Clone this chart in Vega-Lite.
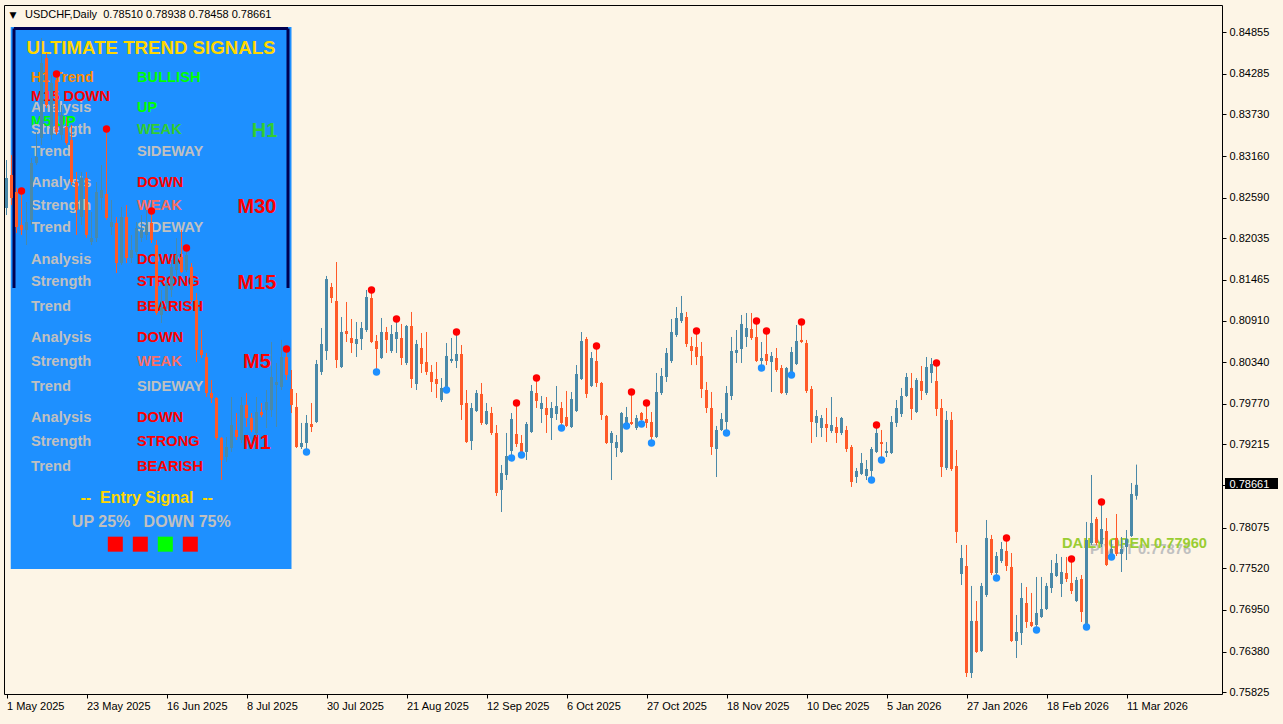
{
"$schema":"https://vega.github.io/schema/vega-lite/v6.json",
"width":1218,"height":689,
"autosize":{"type":"none"},
"padding":{"left":4,"top":5,"right":61,"bottom":30},
"background":"#FDF5E6",
"config":{"view":{"stroke":"#000000","strokeWidth":1},"text":{"font":"Liberation Sans"},"scale":{"continuousPadding":0}},
"datasets":{
"candles":[
{"i":0,"o":0.82450,"h":0.83107,"l":0.82354,"c":0.82861},
{"i":1,"o":0.82902,"h":0.83176,"l":0.82491,"c":0.82587},
{"i":2,"o":0.82669,"h":0.82724,"l":0.82108,"c":0.82190},
{"i":3,"o":0.82218,"h":0.82642,"l":0.82081,"c":0.82149,"s":"hi"},
{"i":4,"o":0.82149,"h":0.82532,"l":0.81944,"c":0.82259},
{"i":5,"o":0.82286,"h":0.83135,"l":0.82218,"c":0.83066},
{"i":6,"o":0.83066,"h":0.83490,"l":0.83039,"c":0.83148},
{"i":7,"o":0.83408,"h":0.84777,"l":0.83313,"c":0.84435},
{"i":8,"o":0.84503,"h":0.84572,"l":0.83819,"c":0.83860},
{"i":9,"o":0.83449,"h":0.84271,"l":0.83381,"c":0.84161},
{"i":10,"o":0.84202,"h":0.84243,"l":0.83449,"c":0.83490,"s":"hi"},
{"i":11,"o":0.83449,"h":0.83860,"l":0.83381,"c":0.83723},
{"i":12,"o":0.83559,"h":0.83696,"l":0.83313,"c":0.83340},
{"i":13,"o":0.83381,"h":0.83586,"l":0.82765,"c":0.82806},
{"i":14,"o":0.82806,"h":0.82943,"l":0.82081,"c":0.82423},
{"i":15,"o":0.82327,"h":0.82943,"l":0.82218,"c":0.82861},
{"i":16,"o":0.82861,"h":0.82943,"l":0.82040,"c":0.82081},
{"i":17,"o":0.81985,"h":0.82395,"l":0.81944,"c":0.82040},
{"i":18,"o":0.82040,"h":0.82806,"l":0.81985,"c":0.82669},
{"i":19,"o":0.82587,"h":0.83039,"l":0.82423,"c":0.82697},
{"i":20,"o":0.82642,"h":0.83490,"l":0.82286,"c":0.82313,"s":"hi"},
{"i":21,"o":0.82190,"h":0.82560,"l":0.82081,"c":0.82259},
{"i":22,"o":0.82245,"h":0.82327,"l":0.81561,"c":0.81697},
{"i":23,"o":0.81697,"h":0.82464,"l":0.81670,"c":0.82327},
{"i":24,"o":0.82327,"h":0.82491,"l":0.81697,"c":0.81766},
{"i":25,"o":0.81766,"h":0.82081,"l":0.81697,"c":0.81875},
{"i":26,"o":0.81848,"h":0.82259,"l":0.81807,"c":0.82177},
{"i":27,"o":0.82040,"h":0.82354,"l":0.81985,"c":0.82149},
{"i":28,"o":0.82081,"h":0.82423,"l":0.82012,"c":0.82218},
{"i":29,"o":0.82245,"h":0.82368,"l":0.81971,"c":0.82012,"s":"hi"},
{"i":30,"o":0.81944,"h":0.82012,"l":0.80986,"c":0.81013},
{"i":31,"o":0.80986,"h":0.81328,"l":0.80876,"c":0.81095},
{"i":32,"o":0.81150,"h":0.81506,"l":0.81054,"c":0.81424},
{"i":33,"o":0.81328,"h":0.81739,"l":0.81232,"c":0.81643},
{"i":34,"o":0.81602,"h":0.82040,"l":0.81506,"c":0.81807},
{"i":35,"o":0.81780,"h":0.82149,"l":0.81561,"c":0.81574},
{"i":36,"o":0.81602,"h":0.81862,"l":0.81574,"c":0.81807,"s":"hi"},
{"i":37,"o":0.81643,"h":0.81697,"l":0.81164,"c":0.81191},
{"i":38,"o":0.81191,"h":0.81287,"l":0.80342,"c":0.80507},
{"i":39,"o":0.80507,"h":0.80780,"l":0.80397,"c":0.80438},
{"i":40,"o":0.80411,"h":0.80466,"l":0.79863,"c":0.79918},
{"i":41,"o":0.79918,"h":0.80096,"l":0.79781,"c":0.79850},
{"i":42,"o":0.79850,"h":0.79863,"l":0.79275,"c":0.79302},
{"i":43,"o":0.79302,"h":0.79316,"l":0.78727,"c":0.79001},
{"i":44,"o":0.79042,"h":0.79316,"l":0.78974,"c":0.79179},
{"i":45,"o":0.79165,"h":0.79863,"l":0.79111,"c":0.79480},
{"i":46,"o":0.79412,"h":0.79644,"l":0.79275,"c":0.79316},
{"i":47,"o":0.79275,"h":0.79863,"l":0.79234,"c":0.79754},
{"i":48,"o":0.79754,"h":0.79918,"l":0.79453,"c":0.79576},
{"i":49,"o":0.79576,"h":0.79644,"l":0.79384,"c":0.79412},
{"i":50,"o":0.79371,"h":0.79863,"l":0.79316,"c":0.79658},
{"i":51,"o":0.79658,"h":0.79781,"l":0.79590,"c":0.79617},
{"i":52,"o":0.79685,"h":0.79959,"l":0.79439,"c":0.79795},
{"i":53,"o":0.79685,"h":0.80616,"l":0.79590,"c":0.80137},
{"i":54,"o":0.80028,"h":0.80329,"l":0.79453,"c":0.80069},
{"i":55,"o":0.80000,"h":0.80644,"l":0.79959,"c":0.80411},
{"i":56,"o":0.80411,"h":0.80479,"l":0.80096,"c":0.80165,"s":"hi"},
{"i":57,"o":0.79973,"h":0.80233,"l":0.79644,"c":0.79754},
{"i":58,"o":0.79727,"h":0.79918,"l":0.79165,"c":0.79179},
{"i":59,"o":0.79179,"h":0.79508,"l":0.79152,"c":0.79234},
{"i":60,"o":0.79234,"h":0.79617,"l":0.79124,"c":0.79508,"s":"lo"},
{"i":61,"o":0.79494,"h":0.79781,"l":0.79384,"c":0.79453},
{"i":62,"o":0.79521,"h":0.80370,"l":0.79508,"c":0.80315},
{"i":63,"o":0.80206,"h":0.80808,"l":0.80165,"c":0.80589},
{"i":64,"o":0.80493,"h":0.81520,"l":0.80370,"c":0.81478},
{"i":65,"o":0.81369,"h":0.81424,"l":0.81150,"c":0.81218},
{"i":66,"o":0.81177,"h":0.81711,"l":0.80260,"c":0.80370},
{"i":67,"o":0.80274,"h":0.80958,"l":0.80260,"c":0.80753},
{"i":68,"o":0.80767,"h":0.81164,"l":0.80616,"c":0.80726},
{"i":69,"o":0.80671,"h":0.80931,"l":0.80466,"c":0.80602},
{"i":70,"o":0.80589,"h":0.80890,"l":0.80411,"c":0.80657},
{"i":71,"o":0.80657,"h":0.80890,"l":0.80507,"c":0.80808},
{"i":72,"o":0.80780,"h":0.81328,"l":0.80753,"c":0.81232},
{"i":73,"o":0.81218,"h":0.81287,"l":0.80602,"c":0.80616,"s":"hi"},
{"i":74,"o":0.80630,"h":0.80712,"l":0.80219,"c":0.80520,"s":"lo"},
{"i":75,"o":0.80397,"h":0.80945,"l":0.80384,"c":0.80753},
{"i":76,"o":0.80753,"h":0.80822,"l":0.80466,"c":0.80644},
{"i":77,"o":0.80493,"h":0.80849,"l":0.80466,"c":0.80726},
{"i":78,"o":0.80657,"h":0.80890,"l":0.80466,"c":0.80753,"s":"hi"},
{"i":79,"o":0.80671,"h":0.80863,"l":0.80301,"c":0.80397},
{"i":80,"o":0.80329,"h":0.80849,"l":0.80301,"c":0.80835},
{"i":81,"o":0.80835,"h":0.81027,"l":0.79987,"c":0.80110},
{"i":82,"o":0.80041,"h":0.80644,"l":0.79959,"c":0.80589},
{"i":83,"o":0.80534,"h":0.80739,"l":0.80192,"c":0.80315},
{"i":84,"o":0.80342,"h":0.80753,"l":0.80165,"c":0.80206},
{"i":85,"o":0.80206,"h":0.80301,"l":0.79932,"c":0.80069},
{"i":86,"o":0.80110,"h":0.80342,"l":0.79850,"c":0.80041},
{"i":87,"o":0.79822,"h":0.80123,"l":0.79795,"c":0.79987},
{"i":88,"o":0.79987,"h":0.80602,"l":0.79973,"c":0.80425,"s":"lo"},
{"i":89,"o":0.80356,"h":0.80671,"l":0.80329,"c":0.80384},
{"i":90,"o":0.80356,"h":0.80712,"l":0.80260,"c":0.80452,"s":"hi"},
{"i":91,"o":0.80452,"h":0.80575,"l":0.79549,"c":0.79754},
{"i":92,"o":0.79781,"h":0.79959,"l":0.79234,"c":0.79247},
{"i":93,"o":0.79261,"h":0.79781,"l":0.79138,"c":0.79713},
{"i":94,"o":0.79672,"h":0.79959,"l":0.79658,"c":0.79918},
{"i":95,"o":0.79905,"h":0.80055,"l":0.79480,"c":0.79508},
{"i":96,"o":0.79494,"h":0.79781,"l":0.79480,"c":0.79672},
{"i":97,"o":0.79644,"h":0.79727,"l":0.79343,"c":0.79371},
{"i":98,"o":0.79371,"h":0.79480,"l":0.78508,"c":0.78549},
{"i":99,"o":0.78591,"h":0.78933,"l":0.78289,"c":0.78823},
{"i":100,"o":0.78796,"h":0.79371,"l":0.78727,"c":0.79056},
{"i":101,"o":0.79124,"h":0.79644,"l":0.79042,"c":0.79562,"s":"lo"},
{"i":102,"o":0.79357,"h":0.79740,"l":0.79179,"c":0.79220,"s":"hi"},
{"i":103,"o":0.79234,"h":0.79343,"l":0.79083,"c":0.79111,"s":"lo"},
{"i":104,"o":0.79111,"h":0.79521,"l":0.79001,"c":0.79494},
{"i":105,"o":0.79384,"h":0.80028,"l":0.79371,"c":0.79946},
{"i":106,"o":0.79918,"h":0.80082,"l":0.79713,"c":0.79809,"s":"hi"},
{"i":107,"o":0.79699,"h":0.79877,"l":0.79508,"c":0.79781},
{"i":108,"o":0.79713,"h":0.79863,"l":0.79371,"c":0.79617},
{"i":109,"o":0.79576,"h":0.79795,"l":0.79275,"c":0.79713},
{"i":110,"o":0.79631,"h":0.80014,"l":0.79549,"c":0.79740},
{"i":111,"o":0.79713,"h":0.79795,"l":0.79453,"c":0.79508,"s":"lo"},
{"i":112,"o":0.79590,"h":0.79946,"l":0.79453,"c":0.79467},
{"i":113,"o":0.79453,"h":0.79932,"l":0.79439,"c":0.79836},
{"i":114,"o":0.79672,"h":0.80301,"l":0.79658,"c":0.80178},
{"i":115,"o":0.80110,"h":0.80753,"l":0.80096,"c":0.80630},
{"i":116,"o":0.80657,"h":0.80685,"l":0.79850,"c":0.79905},
{"i":117,"o":0.80014,"h":0.80479,"l":0.80000,"c":0.80397},
{"i":118,"o":0.80356,"h":0.80520,"l":0.80000,"c":0.80055,"s":"hi"},
{"i":119,"o":0.80055,"h":0.80069,"l":0.79549,"c":0.79617},
{"i":120,"o":0.79603,"h":0.79617,"l":0.79220,"c":0.79234},
{"i":121,"o":0.79234,"h":0.79398,"l":0.78727,"c":0.79371},
{"i":122,"o":0.79165,"h":0.79343,"l":0.79042,"c":0.79247},
{"i":123,"o":0.79111,"h":0.79658,"l":0.79097,"c":0.79644},
{"i":124,"o":0.79508,"h":0.79727,"l":0.79480,"c":0.79590,"s":"lo"},
{"i":125,"o":0.79521,"h":0.79891,"l":0.79480,"c":0.79494,"s":"hi"},
{"i":126,"o":0.79439,"h":0.79617,"l":0.79412,"c":0.79576},
{"i":127,"o":0.79644,"h":0.79658,"l":0.79508,"c":0.79549,"s":"lo"},
{"i":128,"o":0.79562,"h":0.79740,"l":0.79439,"c":0.79508,"s":"hi"},
{"i":129,"o":0.79521,"h":0.79658,"l":0.79247,"c":0.79316,"s":"lo"},
{"i":130,"o":0.79316,"h":0.80192,"l":0.79302,"c":0.79932},
{"i":131,"o":0.79918,"h":0.80260,"l":0.79891,"c":0.80151},
{"i":132,"o":0.80137,"h":0.80534,"l":0.80069,"c":0.80466},
{"i":133,"o":0.80356,"h":0.80931,"l":0.80329,"c":0.80753},
{"i":134,"o":0.80712,"h":0.81095,"l":0.80685,"c":0.80945},
{"i":135,"o":0.80904,"h":0.81246,"l":0.80876,"c":0.81013},
{"i":136,"o":0.80958,"h":0.81027,"l":0.80548,"c":0.80589},
{"i":137,"o":0.80561,"h":0.80685,"l":0.80301,"c":0.80493},
{"i":138,"o":0.80548,"h":0.80726,"l":0.80301,"c":0.80411,"s":"hi"},
{"i":139,"o":0.80425,"h":0.80616,"l":0.79850,"c":0.79973},
{"i":140,"o":0.79959,"h":0.80069,"l":0.79644,"c":0.79713},
{"i":141,"o":0.79713,"h":0.79932,"l":0.79070,"c":0.79179},
{"i":142,"o":0.79152,"h":0.79467,"l":0.78768,"c":0.79412},
{"i":143,"o":0.79412,"h":0.79644,"l":0.79398,"c":0.79562},
{"i":144,"o":0.79521,"h":0.80014,"l":0.79384,"c":0.79918,"s":"lo"},
{"i":145,"o":0.79877,"h":0.80685,"l":0.79822,"c":0.80493},
{"i":146,"o":0.80466,"h":0.80780,"l":0.80329,"c":0.80507},
{"i":147,"o":0.80520,"h":0.80986,"l":0.80329,"c":0.80863},
{"i":148,"o":0.80685,"h":0.81013,"l":0.80548,"c":0.80808},
{"i":149,"o":0.80794,"h":0.81013,"l":0.80644,"c":0.80671},
{"i":150,"o":0.80685,"h":0.80863,"l":0.80342,"c":0.80356,"s":"hi"},
{"i":151,"o":0.80356,"h":0.80616,"l":0.80274,"c":0.80397,"s":"lo"},
{"i":152,"o":0.80452,"h":0.80726,"l":0.80301,"c":0.80356,"s":"hi"},
{"i":153,"o":0.80342,"h":0.80479,"l":0.79932,"c":0.80425},
{"i":154,"o":0.80397,"h":0.80534,"l":0.80206,"c":0.80233},
{"i":155,"o":0.80260,"h":0.80301,"l":0.79905,"c":0.79918},
{"i":156,"o":0.79918,"h":0.80274,"l":0.79891,"c":0.80260},
{"i":157,"o":0.80192,"h":0.80548,"l":0.80178,"c":0.80479,"s":"lo"},
{"i":158,"o":0.80315,"h":0.80849,"l":0.80301,"c":0.80630},
{"i":159,"o":0.80644,"h":0.80849,"l":0.80602,"c":0.80616,"s":"hi"},
{"i":160,"o":0.80602,"h":0.80644,"l":0.79918,"c":0.79946},
{"i":161,"o":0.79973,"h":0.80014,"l":0.79234,"c":0.79521},
{"i":162,"o":0.79508,"h":0.79685,"l":0.79316,"c":0.79603},
{"i":163,"o":0.79439,"h":0.79617,"l":0.79316,"c":0.79576},
{"i":164,"o":0.79494,"h":0.79713,"l":0.79247,"c":0.79439},
{"i":165,"o":0.79398,"h":0.79863,"l":0.79371,"c":0.79480},
{"i":166,"o":0.79453,"h":0.79590,"l":0.79234,"c":0.79371},
{"i":167,"o":0.79371,"h":0.79590,"l":0.79343,"c":0.79576},
{"i":168,"o":0.79412,"h":0.79467,"l":0.79111,"c":0.79152},
{"i":169,"o":0.79179,"h":0.79206,"l":0.78632,"c":0.78700},
{"i":170,"o":0.78768,"h":0.78892,"l":0.78686,"c":0.78851},
{"i":171,"o":0.78810,"h":0.79097,"l":0.78796,"c":0.78960},
{"i":172,"o":0.78782,"h":0.79001,"l":0.78727,"c":0.78878},
{"i":173,"o":0.78851,"h":0.79179,"l":0.78741,"c":0.79152,"s":"lo"},
{"i":174,"o":0.79111,"h":0.79439,"l":0.79097,"c":0.79371,"s":"hi"},
{"i":175,"o":0.79247,"h":0.79412,"l":0.79015,"c":0.79220,"s":"lo"},
{"i":176,"o":0.79097,"h":0.79247,"l":0.79042,"c":0.79124},
{"i":177,"o":0.79097,"h":0.79603,"l":0.79083,"c":0.79521},
{"i":178,"o":0.79508,"h":0.79822,"l":0.79453,"c":0.79713},
{"i":179,"o":0.79631,"h":0.79987,"l":0.79590,"c":0.79877},
{"i":180,"o":0.79877,"h":0.80192,"l":0.79863,"c":0.80137},
{"i":181,"o":0.79987,"h":0.80192,"l":0.79549,"c":0.79699},
{"i":182,"o":0.79658,"h":0.80123,"l":0.79644,"c":0.80096},
{"i":183,"o":0.80082,"h":0.80288,"l":0.79822,"c":0.79946},
{"i":184,"o":0.79918,"h":0.80411,"l":0.79891,"c":0.80274},
{"i":185,"o":0.80192,"h":0.80397,"l":0.80055,"c":0.80315},
{"i":186,"o":0.80082,"h":0.80288,"l":0.79603,"c":0.79699,"s":"hi"},
{"i":187,"o":0.79713,"h":0.79836,"l":0.78768,"c":0.78905},
{"i":188,"o":0.78892,"h":0.79672,"l":0.78864,"c":0.79549},
{"i":189,"o":0.79549,"h":0.79658,"l":0.78851,"c":0.78878},
{"i":190,"o":0.78919,"h":0.79138,"l":0.77865,"c":0.78016},
{"i":191,"o":0.77441,"h":0.77838,"l":0.77290,"c":0.77660},
{"i":192,"o":0.77550,"h":0.77838,"l":0.76031,"c":0.76086},
{"i":193,"o":0.76086,"h":0.77277,"l":0.76017,"c":0.76798},
{"i":194,"o":0.76798,"h":0.77071,"l":0.76360,"c":0.76373},
{"i":195,"o":0.76387,"h":0.77318,"l":0.76373,"c":0.77277},
{"i":196,"o":0.77153,"h":0.78180,"l":0.77126,"c":0.77934},
{"i":197,"o":0.77920,"h":0.77975,"l":0.77427,"c":0.77454},
{"i":198,"o":0.77454,"h":0.77742,"l":0.77400,"c":0.77687,"s":"lo"},
{"i":199,"o":0.77619,"h":0.77879,"l":0.77591,"c":0.77783},
{"i":200,"o":0.77756,"h":0.77892,"l":0.77482,"c":0.77550,"s":"hi"},
{"i":201,"o":0.77537,"h":0.77728,"l":0.76510,"c":0.76524},
{"i":202,"o":0.76524,"h":0.76880,"l":0.76291,"c":0.76647},
{"i":203,"o":0.76633,"h":0.77318,"l":0.76469,"c":0.77112},
{"i":204,"o":0.77044,"h":0.77263,"l":0.76702,"c":0.76784},
{"i":205,"o":0.76784,"h":0.77181,"l":0.76715,"c":0.76729},
{"i":206,"o":0.76743,"h":0.77400,"l":0.76688,"c":0.76907,"s":"lo"},
{"i":207,"o":0.76852,"h":0.77400,"l":0.76839,"c":0.76962},
{"i":208,"o":0.76962,"h":0.77318,"l":0.76948,"c":0.77277},
{"i":209,"o":0.77249,"h":0.77632,"l":0.77181,"c":0.77454},
{"i":210,"o":0.77413,"h":0.77715,"l":0.77400,"c":0.77591},
{"i":211,"o":0.77304,"h":0.77674,"l":0.77126,"c":0.77468},
{"i":212,"o":0.77454,"h":0.77674,"l":0.77331,"c":0.77372},
{"i":213,"o":0.77318,"h":0.77605,"l":0.77167,"c":0.77208,"s":"hi"},
{"i":214,"o":0.77071,"h":0.77400,"l":0.77058,"c":0.77359},
{"i":215,"o":0.77372,"h":0.77427,"l":0.76784,"c":0.76921},
{"i":216,"o":0.76743,"h":0.78153,"l":0.76729,"c":0.77906,"s":"lo"},
{"i":217,"o":0.77865,"h":0.78796,"l":0.77838,"c":0.78139},
{"i":218,"o":0.78194,"h":0.78221,"l":0.77838,"c":0.77865},
{"i":219,"o":0.77851,"h":0.78385,"l":0.77810,"c":0.78057,"s":"hi"},
{"i":220,"o":0.78029,"h":0.78207,"l":0.77550,"c":0.77564},
{"i":221,"o":0.77715,"h":0.77906,"l":0.77687,"c":0.77783,"s":"lo"},
{"i":222,"o":0.77934,"h":0.78262,"l":0.77687,"c":0.77715},
{"i":223,"o":0.77715,"h":0.77947,"l":0.77468,"c":0.77783},
{"i":224,"o":0.77810,"h":0.78043,"l":0.77632,"c":0.77920},
{"i":225,"o":0.77961,"h":0.78686,"l":0.77947,"c":0.78536},
{"i":226,"o":0.78510,"h":0.78938,"l":0.78458,"c":0.78661}
],
"panel":[
{"t":"ULTIMATE TREND SIGNALS","x":28.9,"p":0.84640,"k":"title","tone":"title"},
{"t":"H1 Trend","x":4.9,"p":0.84230,"k":"row","tone":"trend"},
{"t":"BULLISH","x":26.1,"p":0.84230,"k":"row","tone":"up"},
{"t":"M15 DOWN","x":4.9,"p":0.83970,"k":"row","tone":"down"},
{"t":"Analysis","x":4.9,"p":0.83819,"k":"row","tone":"label"},
{"t":"UP","x":26.1,"p":0.83819,"k":"row","tone":"up"},
{"t":"M5 UP","x":4.9,"p":0.83634,"k":"row","tone":"up"},
{"t":"Strength","x":4.9,"p":0.83518,"k":"row","tone":"label"},
{"t":"WEAK","x":26.1,"p":0.83518,"k":"row","tone":"upweak"},
{"t":"Trend","x":4.9,"p":0.83217,"k":"row","tone":"label"},
{"t":"SIDEWAY","x":26.1,"p":0.83217,"k":"row","tone":"label"},
{"t":"Analysis","x":4.9,"p":0.82792,"k":"row","tone":"label"},
{"t":"DOWN","x":26.1,"p":0.82792,"k":"row","tone":"down"},
{"t":"Strength","x":4.9,"p":0.82478,"k":"row","tone":"label"},
{"t":"WEAK","x":26.1,"p":0.82478,"k":"row","tone":"downweak"},
{"t":"Trend","x":4.9,"p":0.82177,"k":"row","tone":"label"},
{"t":"SIDEWAY","x":26.1,"p":0.82177,"k":"row","tone":"label"},
{"t":"Analysis","x":4.9,"p":0.81739,"k":"row","tone":"label"},
{"t":"DOWN","x":26.1,"p":0.81739,"k":"row","tone":"down"},
{"t":"Strength","x":4.9,"p":0.81437,"k":"row","tone":"label"},
{"t":"STRONG","x":26.1,"p":0.81437,"k":"row","tone":"down"},
{"t":"Trend","x":4.9,"p":0.81095,"k":"row","tone":"label"},
{"t":"BEARISH","x":26.1,"p":0.81095,"k":"row","tone":"down"},
{"t":"Analysis","x":4.9,"p":0.80671,"k":"row","tone":"label"},
{"t":"DOWN","x":26.1,"p":0.80671,"k":"row","tone":"down"},
{"t":"Strength","x":4.9,"p":0.80342,"k":"row","tone":"label"},
{"t":"WEAK","x":26.1,"p":0.80342,"k":"row","tone":"downweak"},
{"t":"Trend","x":4.9,"p":0.80000,"k":"row","tone":"label"},
{"t":"SIDEWAY","x":26.1,"p":0.80000,"k":"row","tone":"label"},
{"t":"Analysis","x":4.9,"p":0.79576,"k":"row","tone":"label"},
{"t":"DOWN","x":26.1,"p":0.79576,"k":"row","tone":"down"},
{"t":"Strength","x":4.9,"p":0.79247,"k":"row","tone":"label"},
{"t":"STRONG","x":26.1,"p":0.79247,"k":"row","tone":"down"},
{"t":"Trend","x":4.9,"p":0.78905,"k":"row","tone":"label"},
{"t":"BEARISH","x":26.1,"p":0.78905,"k":"row","tone":"down"},
{"t":"H1","x":51.6,"p":0.83504,"k":"tf","tone":"upweak"},
{"t":"M30","x":50.1,"p":0.82464,"k":"tf","tone":"down"},
{"t":"M15","x":50.1,"p":0.81424,"k":"tf","tone":"down"},
{"t":"M5","x":50.1,"p":0.80342,"k":"tf","tone":"down"},
{"t":"M1","x":50.1,"p":0.79234,"k":"tf","tone":"down"},
{"t":"--\u00a0\u00a0Entry Signal\u00a0\u00a0--","x":28.04,"p":0.78477,"k":"entry","tone":"title"},
{"t":"UP 25%\u00a0\u00a0\u00a0DOWN 75%","x":28.96,"p":0.78148,"k":"entry","tone":"label"}
],
"squares":[
{"x":21.76,"p":0.77849,"tone":"down"},
{"x":26.76,"p":0.77849,"tone":"down"},
{"x":31.76,"p":0.77849,"tone":"up"},
{"x":36.76,"p":0.77849,"tone":"down"}
],
"levels":[
{"t":"PIVOT 0.77876","x":216.7,"p":0.77876,"k":"pivot"},
{"t":"DAILY OPEN 0.77960","x":211.1,"p":0.77960,"k":"open"}
],
"header":[
{"t":"USDCHF,Daily\u00a0 0.78510 0.78938 0.78458 0.78661","x":3.7,"p":0.85092}
]
},
"layer":[
{"data":{"values":[{}]},"mark":{"type":"rect","fill":"#1E90FF"},
 "encoding":{"x":{"datum":0.85,"type":"quantitative"},"x2":{"datum":57.0},"y":{"datum":0.849276,"type":"quantitative"},"y2":{"datum":0.77509}}},
{"data":{"values":[{}]},"mark":{"type":"rule","stroke":"#000050","strokeWidth":3},
 "encoding":{"x":{"datum":1.5,"type":"quantitative"},"x2":{"datum":56.3},"y":{"datum":0.84907,"type":"quantitative"}}},
{"data":{"values":[{}]},"mark":{"type":"rule","stroke":"#000050","strokeWidth":3},
 "encoding":{"x":{"datum":1.5,"type":"quantitative"},"y":{"datum":0.84907,"type":"quantitative"},"y2":{"datum":0.81355}}},
{"data":{"values":[{}]},"mark":{"type":"rule","stroke":"#000050","strokeWidth":3},
 "encoding":{"x":{"datum":56.3,"type":"quantitative"},"y":{"datum":0.84907,"type":"quantitative"},"y2":{"datum":0.81355}}},
{"data":{"name":"panel"},"transform":[{"filter":"datum.k === 'title'"}],
 "mark":{"type":"text","font":"Liberation Sans","fontWeight":"bold","fontSize":18.67,"align":"center","baseline":"middle"},
 "encoding":{"x":{"field":"x","type":"quantitative"},"y":{"field":"p","type":"quantitative"},"text":{"field":"t","type":"nominal"},
  "color":{"field":"tone","type":"nominal","legend":null,"scale":{"domain":["title","trend","label","up","upweak","down","downweak"],"range":["#FFD700","#FF8C00","#C0C0C0","#00FF00","#32CD32","#FF0000","#FA6E64"]}}}},
{"data":{"name":"panel"},"transform":[{"filter":"datum.k === 'row'"}],
 "mark":{"type":"text","font":"Liberation Sans","fontWeight":"bold","fontSize":14.67,"align":"left","baseline":"middle"},
 "encoding":{"x":{"field":"x","type":"quantitative"},"y":{"field":"p","type":"quantitative"},"text":{"field":"t","type":"nominal"},
  "color":{"field":"tone","type":"nominal","legend":null,"scale":{"domain":["title","trend","label","up","upweak","down","downweak"],"range":["#FFD700","#FF8C00","#C0C0C0","#00FF00","#32CD32","#FF0000","#FA6E64"]}}}},
{"data":{"name":"panel"},"transform":[{"filter":"datum.k === 'tf'"}],
 "mark":{"type":"text","font":"Liberation Sans","fontWeight":"bold","fontSize":20,"align":"center","baseline":"middle"},
 "encoding":{"x":{"field":"x","type":"quantitative"},"y":{"field":"p","type":"quantitative"},"text":{"field":"t","type":"nominal"},
  "color":{"field":"tone","type":"nominal","legend":null,"scale":{"domain":["title","trend","label","up","upweak","down","downweak"],"range":["#FFD700","#FF8C00","#C0C0C0","#00FF00","#32CD32","#FF0000","#FA6E64"]}}}},
{"data":{"name":"panel"},"transform":[{"filter":"datum.k === 'entry'"}],
 "mark":{"type":"text","font":"Liberation Sans","fontWeight":"bold","fontSize":16,"align":"center","baseline":"middle"},
 "encoding":{"x":{"field":"x","type":"quantitative"},"y":{"field":"p","type":"quantitative"},"text":{"field":"t","type":"nominal"},
  "color":{"field":"tone","type":"nominal","legend":null,"scale":{"domain":["title","trend","label","up","upweak","down","downweak"],"range":["#FFD700","#FF8C00","#C0C0C0","#00FF00","#32CD32","#FF0000","#FA6E64"]}}}},
{"data":{"name":"squares"},
 "mark":{"type":"point","shape":"square","filled":true,"size":225,"opacity":1},
 "encoding":{"x":{"field":"x","type":"quantitative"},"y":{"field":"p","type":"quantitative"},
  "color":{"field":"tone","type":"nominal","legend":null,"scale":{"domain":["title","trend","label","up","upweak","down","downweak"],"range":["#FFD700","#FF8C00","#C0C0C0","#00FF00","#32CD32","#FF0000","#FA6E64"]}}}},
{"data":{"name":"header"},
 "mark":{"type":"text","font":"Liberation Sans","fontSize":11,"align":"left","baseline":"middle","color":"#000000"},
 "encoding":{"x":{"field":"x","type":"quantitative"},"y":{"field":"p","type":"quantitative"},"text":{"field":"t","type":"nominal"}}},
{"data":{"values":[{"t":"\u25bc"}]},
 "mark":{"type":"text","font":"DejaVu Sans","fontSize":9,"align":"center","baseline":"middle","color":"#000000"},
 "encoding":{"x":{"datum":1.3,"type":"quantitative"},"y":{"datum":0.85092,"type":"quantitative"},"text":{"field":"t","type":"nominal"}}},
{"data":{"name":"levels"},"transform":[{"filter":"datum.k === 'pivot'"}],
 "mark":{"type":"text","font":"Liberation Sans","fontWeight":"bold","fontSize":14.67,"align":"left","baseline":"top","color":"#C0C0C0"},
 "encoding":{"x":{"field":"x","type":"quantitative"},"y":{"field":"p","type":"quantitative"},"text":{"field":"t","type":"nominal"}}},
{"data":{"name":"levels"},"transform":[{"filter":"datum.k === 'open'"}],
 "mark":{"type":"text","font":"Liberation Sans","fontWeight":"bold","fontSize":14.67,"align":"left","baseline":"top","color":"#9ACD32"},
 "encoding":{"x":{"field":"x","type":"quantitative"},"y":{"field":"p","type":"quantitative"},"text":{"field":"t","type":"nominal"}}},
{"data":{"values":[{}]},"mark":{"type":"rect","fill":"#000000"},
 "encoding":{"x":{"datum":243.7,"type":"quantitative"},"x2":{"datum":254.3},"y":{"datum":0.78755,"type":"quantitative"},"y2":{"datum":0.78604}}},
{"data":{"name":"candles"},
 "mark":{"type":"rule","strokeWidth":1},
 "encoding":{
  "x":{"field":"i","type":"quantitative","scale":{"domain":[-0.5,243.1],"nice":false,"zero":false,"padding":0},
   "axis":{"orient":"bottom","title":null,"values":[0,16,32,48,64,80,96,112,128,144,160,176,192,208,224],
    "labelExpr":"['1 May 2025','23 May 2025','16 Jun 2025','8 Jul 2025','30 Jul 2025','21 Aug 2025','12 Sep 2025','6 Oct 2025','27 Oct 2025','18 Nov 2025','10 Dec 2025','5 Jan 2026','27 Jan 2026','18 Feb 2026','11 Mar 2026'][round(datum.value/16)]",
    "labelAlign":"left","labelBaseline":"top","labelPadding":2,"labelDx":-1,"tickSize":4,"tickColor":"#000000","domain":false,"grid":false,
    "labelFont":"Liberation Sans","labelFontSize":11,"labelColor":"#000000","labelFlush":false,"labelOverlap":false,"zindex":1}},
  "y":{"field":"l","type":"quantitative","scale":{"domain":[0.757983,0.852287],"nice":false,"zero":false},
   "axis":{"orient":"right","title":null,"values":[0.84855,0.84285,0.8373,0.8316,0.8259,0.82035,0.81465,0.8091,0.8034,0.7977,0.79215,0.78661,0.78075,0.7752,0.7695,0.7638,0.75825],
    "format":".5f","tickSize":4,"tickColor":"#000000","labelPadding":3,"domain":false,"grid":false,
    "labelFont":"Liberation Sans","labelFontSize":11,
    "labelColor":{"condition":{"test":"datum.value === 0.78661","value":"#FFFFFF"},"value":"#000000"},
    "labelFlush":false,"labelOverlap":false,"labelBaseline":"middle","zindex":1}},
  "y2":{"field":"h"},
  "color":{"condition":{"test":"datum.c > datum.o","value":"#4A89A8"},"value":"#FF5A28"}}},
{"data":{"name":"candles"},
 "mark":{"type":"bar","size":3},
 "encoding":{"x":{"field":"i","type":"quantitative"},"y":{"field":"o","type":"quantitative"},"y2":{"field":"c"},
  "color":{"condition":{"test":"datum.c > datum.o","value":"#4A89A8"},"value":"#FF5A28"}}},
{"data":{"name":"candles"},"transform":[{"filter":"datum.s === 'hi'"}],
 "mark":{"type":"circle","size":55,"color":"#FF0000","opacity":1,"yOffset":-3},
 "encoding":{"x":{"field":"i","type":"quantitative"},"y":{"field":"h","type":"quantitative"}}},
{"data":{"name":"candles"},"transform":[{"filter":"datum.s === 'lo'"}],
 "mark":{"type":"circle","size":55,"color":"#1E90FF","opacity":1,"yOffset":1},
 "encoding":{"x":{"field":"i","type":"quantitative"},"y":{"field":"l","type":"quantitative"}}}
]
}
